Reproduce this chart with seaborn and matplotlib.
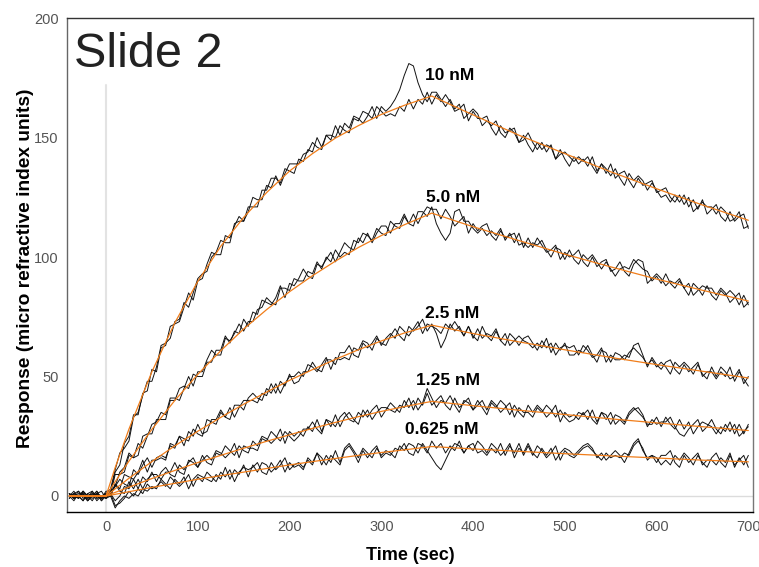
import numpy as np
import pandas as pd
import matplotlib
matplotlib.use("Agg")
import matplotlib.pyplot as plt
import seaborn as sns

# sampling grid of the sensorgram (sec)
time = np.arange(-40, 701, 5)

r10_a = [1, -1, 2, 0, -2, 0, 2, -2, 1, 3,
         11, 18, 20, 23, 33, 35, 42, 48, 48, 54,
         63, 64, 66, 73, 74, 81, 79, 85, 91, 93,
         94, 100, 102, 107, 106, 106, 114, 115, 115, 121,
         121, 121, 128, 128, 133, 133, 131, 137, 136, 135,
         141, 140, 145, 144, 150, 146, 151, 149, 155, 151,
         156, 154, 159, 158, 156, 159, 163, 158, 163, 161,
         163, 166, 170, 176, 181, 180, 173, 168, 165, 169,
         169, 166, 163, 166, 162, 164, 158, 160, 162, 160,
         155, 157, 155, 157, 152, 150, 154, 152, 148, 151,
         147, 144, 148, 145, 147, 146, 141, 145, 141, 138,
         142, 139, 141, 138, 142, 136, 139, 135, 139, 133,
         135, 136, 132, 129, 133, 130, 131, 132, 127, 128,
         129, 125, 123, 126, 122, 125, 119, 121, 123, 121,
         121, 118, 121, 119, 115, 116, 119, 112, 113]
r10_b = [-1, 1, 0, -2, 1, 2, -1, 0, -1, 2,
         10, 13, 22, 25, 34, 34, 43, 44, 53, 52,
         62, 63, 71, 72, 73, 79, 85, 82, 90, 91,
         97, 102, 101, 101, 109, 108, 113, 117, 115, 119,
         125, 124, 124, 130, 129, 134, 130, 135, 139, 139,
         139, 143, 144, 148, 146, 145, 151, 151, 150, 155,
         153, 152, 158, 157, 161, 160, 158, 163, 161, 159,
         160, 159, 163, 161, 166, 162, 166, 164, 169, 164,
         168, 165, 168, 165, 161, 162, 164, 157, 161, 158,
         158, 159, 154, 151, 155, 152, 153, 154, 148, 149,
         152, 148, 145, 148, 144, 147, 141, 143, 144, 142,
         140, 142, 140, 142, 138, 135, 139, 137, 134, 137,
         133, 130, 135, 132, 134, 132, 128, 131, 128, 125,
         126, 123, 126, 123, 126, 121, 124, 120, 124, 118,
         120, 122, 117, 115, 119, 115, 117, 118, 112]
r5_a = [0, 2, -1, 1, -2, 1, 0, -1, 2, 2,
        4, 10, 12, 18, 16, 17, 25, 26, 26, 32,
        32, 32, 40, 40, 45, 46, 45, 51, 50, 50,
        56, 56, 61, 61, 67, 64, 69, 68, 74, 71,
        77, 76, 82, 81, 80, 83, 88, 83, 89, 88,
        91, 95, 92, 91, 97, 96, 99, 102, 98, 102,
        106, 104, 103, 108, 106, 110, 106, 110, 113, 113,
        110, 114, 114, 118, 114, 113, 119, 119, 117, 121,
        114, 110, 107, 110, 119, 120, 115, 115, 112, 110,
        112, 109, 111, 109, 112, 107, 110, 106, 110, 104,
        108, 104, 108, 105, 102, 103, 105, 99, 102, 100,
        101, 103, 98, 96, 100, 96, 98, 99, 94, 95,
        98, 94, 92, 97, 99, 98, 89, 91, 93, 91,
        88, 90, 89, 91, 87, 84, 89, 87, 84, 88,
        84, 82, 86, 84, 86, 84, 80, 84, 80]
r5_b = [1, -1, 0, 2, -1, 0, 1, -2, 0, 1,
        9, 9, 10, 17, 16, 22, 20, 25, 30, 31,
        35, 34, 41, 41, 40, 45, 50, 46, 52, 52,
        57, 61, 59, 59, 66, 65, 68, 72, 69, 73,
        73, 78, 79, 83, 81, 80, 87, 87, 86, 91,
        90, 90, 94, 93, 98, 95, 100, 98, 103, 100,
        102, 101, 107, 106, 110, 109, 107, 112, 110, 109,
        115, 113, 112, 117, 114, 118, 114, 118, 121, 120,
        120, 116, 120, 117, 113, 115, 117, 110, 114, 111,
        113, 114, 109, 107, 111, 108, 109, 110, 105, 106,
        104, 106, 105, 107, 103, 100, 104, 103, 99, 103,
        99, 97, 101, 99, 101, 98, 95, 98, 95, 92,
        95, 96, 95, 99, 97, 95, 94, 90, 92, 89,
        93, 89, 87, 90, 87, 89, 84, 86, 88, 87,
        87, 84, 87, 85, 81, 83, 85, 79, 81]
r25_a = [-1, 1, 2, -1, 0, 1, -2, 0, 1, 1,
         4, 7, 5, 4, 11, 9, 13, 16, 12, 16,
         17, 16, 21, 20, 25, 21, 27, 25, 30, 26,
         27, 32, 32, 36, 33, 32, 38, 38, 36, 41,
         43, 41, 40, 45, 43, 47, 43, 47, 50, 50,
         52, 50, 55, 54, 52, 55, 58, 53, 58, 57,
         58, 57, 62, 61, 65, 64, 61, 66, 64, 63,
         67, 70, 67, 65, 71, 69, 71, 74, 69, 72,
         68, 62, 66, 72, 69, 71, 67, 71, 66, 70,
         66, 68, 67, 70, 65, 63, 68, 66, 63, 66,
         67, 64, 61, 65, 62, 64, 59, 62, 63, 62,
         63, 59, 63, 61, 58, 59, 62, 56, 59, 57,
         57, 59, 58, 63, 64, 59, 54, 58, 55, 53,
         56, 57, 53, 51, 55, 52, 54, 56, 50, 52,
         52, 49, 52, 50, 54, 48, 52, 49, 46]
r25_b = [1, -1, 0, 1, -2, 0, 1, 2, -1, 0,
         5, 3, 9, 8, 7, 10, 15, 10, 15, 15,
         16, 15, 22, 21, 25, 24, 23, 28, 26, 25,
         32, 31, 30, 35, 33, 37, 33, 37, 40, 40,
         40, 39, 43, 42, 47, 43, 48, 46, 51, 47,
         48, 52, 52, 56, 53, 52, 57, 57, 55, 60,
         60, 63, 59, 58, 64, 62, 64, 67, 63, 66,
         68, 66, 71, 69, 67, 70, 73, 68, 72, 71,
         70, 68, 72, 70, 73, 70, 67, 71, 67, 65,
         71, 67, 65, 69, 65, 68, 63, 65, 67, 65,
         64, 62, 64, 62, 66, 60, 64, 61, 64, 59,
         59, 61, 60, 63, 59, 56, 61, 60, 56, 60,
         59, 57, 60, 62, 60, 58, 55, 57, 54, 56,
         54, 51, 56, 54, 56, 54, 51, 55, 51, 49,
         54, 50, 54, 52, 49, 50, 53, 47, 50]
r125_a = [0, -2, 1, 1, -1, 2, -1, 0, 1, 0,
          5, 2, 1, 6, 3, 7, 3, 7, 9, 9,
          7, 10, 10, 14, 10, 9, 15, 14, 12, 17,
          14, 13, 18, 17, 21, 19, 17, 21, 19, 18,
          23, 21, 25, 24, 22, 24, 28, 22, 27, 25,
          27, 25, 29, 27, 32, 27, 32, 29, 34, 29,
          33, 35, 32, 30, 36, 33, 36, 38, 33, 36,
          39, 37, 35, 40, 37, 40, 36, 39, 45, 41,
          37, 40, 39, 42, 38, 35, 40, 39, 36, 40,
          37, 34, 39, 37, 40, 38, 34, 38, 35, 33,
          38, 35, 38, 36, 33, 35, 38, 31, 35, 33,
          34, 32, 35, 32, 36, 31, 35, 32, 35, 30,
          32, 30, 34, 36, 37, 34, 29, 32, 30, 31,
          31, 33, 29, 26, 25, 28, 30, 32, 27, 29,
          32, 28, 26, 30, 27, 30, 25, 27, 29]
r125_b = [1, 0, -1, 2, 0, -2, 1, -1, 0, 1,
          -2, 0, 4, 3, 7, 3, 8, 6, 10, 6,
          10, 12, 9, 8, 13, 11, 14, 16, 12, 15,
          17, 15, 19, 18, 16, 18, 22, 16, 21, 20,
          20, 19, 24, 23, 27, 25, 23, 27, 25, 23,
          25, 28, 28, 31, 28, 26, 32, 31, 29, 33,
          35, 32, 31, 35, 33, 36, 32, 35, 37, 37,
          36, 35, 38, 37, 41, 36, 41, 38, 43, 38,
          40, 42, 38, 36, 41, 37, 39, 41, 36, 38,
          40, 36, 40, 38, 35, 37, 39, 33, 37, 35,
          35, 33, 37, 35, 38, 36, 33, 36, 33, 31,
          32, 35, 34, 36, 32, 30, 35, 34, 30, 34,
          33, 31, 35, 37, 35, 33, 30, 30, 33, 29,
          33, 30, 28, 32, 28, 31, 26, 29, 31, 30,
          29, 26, 29, 27, 31, 26, 30, 26, 30]
r0625_a = [0, 1, -1, 2, 0, -1, 1, 0, -1, 1,
           -4, -3, -1, 2, 0, 3, 1, 5, 3, 4,
           6, 4, 8, 6, 4, 6, 9, 4, 8, 6,
           10, 8, 6, 10, 8, 11, 6, 10, 12, 11,
           12, 14, 10, 9, 14, 11, 13, 16, 11, 13,
           14, 12, 15, 13, 18, 13, 17, 14, 19, 14,
           20, 22, 19, 16, 20, 18, 16, 20, 17, 19,
           18, 16, 21, 19, 22, 21, 18, 22, 19, 16,
           13, 11, 15, 19, 22, 21, 18, 21, 19, 23,
           21, 18, 22, 20, 17, 19, 22, 16, 20, 18,
           22, 18, 16, 20, 17, 20, 15, 18, 20, 19,
           17, 19, 21, 22, 20, 16, 18, 15, 17, 19,
           17, 14, 18, 22, 24, 19, 16, 17, 14, 17,
           17, 19, 14, 12, 17, 14, 16, 18, 13, 15,
           15, 13, 16, 14, 18, 12, 16, 13, 17]
r0625_b = [1, -1, 0, -2, 1, 0, 2, -1, 0, 0,
           -5, -2, 0, -1, 1, 0, 3, 2, 4, 3,
           7, 5, 3, 7, 5, 8, 3, 7, 9, 8,
           7, 6, 9, 7, 12, 7, 11, 9, 13, 8,
           13, 10, 14, 13, 10, 12, 15, 10, 14, 12,
           13, 11, 16, 14, 18, 16, 13, 17, 15, 13,
           19, 21, 18, 14, 19, 16, 19, 21, 16, 18,
           17, 20, 19, 22, 18, 17, 22, 21, 18, 23,
           20, 22, 18, 21, 19, 23, 18, 21, 22, 18,
           19, 17, 20, 18, 22, 17, 21, 18, 22, 17,
           21, 17, 21, 19, 16, 18, 21, 15, 19, 17,
           16, 18, 20, 21, 19, 17, 15, 18, 16, 17,
           16, 18, 17, 21, 23, 20, 15, 17, 16, 13,
           15, 13, 17, 15, 18, 16, 13, 17, 14, 12,
           16, 18, 14, 12, 17, 13, 15, 17, 12]

# fitted 1:1 model curves (orange), read at knot times
fit_time = [-40, 0, 10, 25, 50, 75, 100, 125, 150, 175, 200, 225, 250, 275,
            300, 325, 355, 400, 450, 500, 550, 600, 650, 700]
fit10 = [0, 0, 11.9, 28, 52, 72.5, 89.8, 104.5, 116.6, 127, 136, 143.3, 149.8, 155,
         159.7, 163.5, 167.4, 159.5, 151, 143.3, 135.7, 128.6, 121.8, 115.4]
fit5 = [0, 0, 6, 14.6, 27.9, 40, 50.9, 60.8, 69.9, 78, 85.5, 92.2, 98.3, 104,
        109, 113.5, 118.4, 112.7, 106.9, 101.2, 95.9, 90.8, 86.1, 81.6]
fit25 = [0, 0, 3, 7.4, 14.4, 21, 27.1, 32.9, 38.4, 43.5, 48.4, 52.9, 57.2, 61.2,
         64.9, 68.2, 71.5, 68, 64.5, 61.2, 58, 55, 52.2, 49.4]
fit125 = [0, 0, 1.5, 3.7, 7.3, 10.7, 14, 17, 20, 22.9, 25.6, 28.3, 30.8, 33.2,
          35.4, 37.4, 39.6, 37.8, 35.9, 34.1, 32.3, 30.6, 29, 27.4]
fit0625 = [0, 0, 0.7, 1.8, 3.6, 5.3, 7, 8.5, 10, 11.5, 13, 14.4, 15.7, 17,
           18.2, 19.3, 20.7, 19.7, 18.7, 17.7, 16.8, 15.9, 15, 14.3]

conc_labels = ["10 nM", "5.0 nM", "2.5 nM", "1.25 nM", "0.625 nM"]
label_x = [374, 378, 377, 373, 366]
label_y = [176, 125, 76.5, 48.5, 28]

traces = {"10a": r10_a, "10b": r10_b, "5a": r5_a, "5b": r5_b,
          "2.5a": r25_a, "2.5b": r25_b, "1.25a": r125_a, "1.25b": r125_b,
          "0.625a": r0625_a, "0.625b": r0625_b}
fits = {"10": fit10, "5": fit5, "2.5": fit25, "1.25": fit125, "0.625": fit0625}

df = pd.concat([pd.DataFrame({"time": time, "resp": v, "trace": k})
                for k, v in traces.items()], ignore_index=True)
df_fit = pd.concat([pd.DataFrame({"time": fit_time, "resp": v, "trace": k})
                    for k, v in fits.items()], ignore_index=True)

sns.set_style("white")
plt.rcParams['font.family'] = ['Liberation Sans', 'DejaVu Sans']
plt.rcParams['text.color'] = 'black'
plt.rcParams['axes.labelcolor'] = 'black'

fig = plt.figure(figsize=(7.59, 5.67), dpi=100)
ax = fig.add_axes([0.0883, 0.097, 0.9037, 0.871])

# reference lines
ax.axhline(0, color="#dcdcdc", lw=1.0, zorder=0)
ax.plot([0, 0], [-10, 172], color="#e3e3e3", lw=1.5, zorder=0)

sns.lineplot(data=df, x="time", y="resp", units="trace", estimator=None,
             color="#111111", lw=0.7, ax=ax, legend=False)
sns.lineplot(data=df_fit, x="time", y="resp", units="trace", estimator=None,
             color="#f07d1a", lw=0.9, ax=ax, legend=False)

for lab, lx, ly in zip(conc_labels, label_x, label_y):
    ax.text(lx, ly, lab, ha="center", va="center", fontsize=12.5,
            fontweight="bold", color="black")

ax.text(-35, 194, "Slide 2", fontsize=35, color="#222222", ha="left", va="top")

ax.set_xlim(-42.5, 705)
ax.set_ylim(-6.7, 200)
ax.set_xticks([0, 100, 200, 300, 400, 500, 600, 700])
ax.set_yticks([0, 50, 100, 150, 200])
ax.tick_params(length=2, width=0.8, color="#888888", pad=4, labelsize=10.5,
               labelcolor="#555555")
for lbl in ax.get_xticklabels() + ax.get_yticklabels():
    lbl.set_family(['Liberation Sans Narrow', 'Liberation Sans'])

ax.set_xlabel("Time (sec)", fontsize=13, fontweight="bold", labelpad=9)
ax.set_ylabel("Response (micro refractive index units)", fontsize=13.8,
              fontweight="bold")
ax.yaxis.set_label_coords(-0.048, 0.494)

for side in ["left", "bottom", "top", "right"]:
    ax.spines[side].set_visible(True)
    ax.spines[side].set_color("#333333")
    ax.spines[side].set_linewidth(1.0)
ax.spines["bottom"].set_color("black")
ax.spines["left"].set_color("#666666")
ax.spines["right"].set_color("#777777")

fig.savefig("out.png", dpi=100)
